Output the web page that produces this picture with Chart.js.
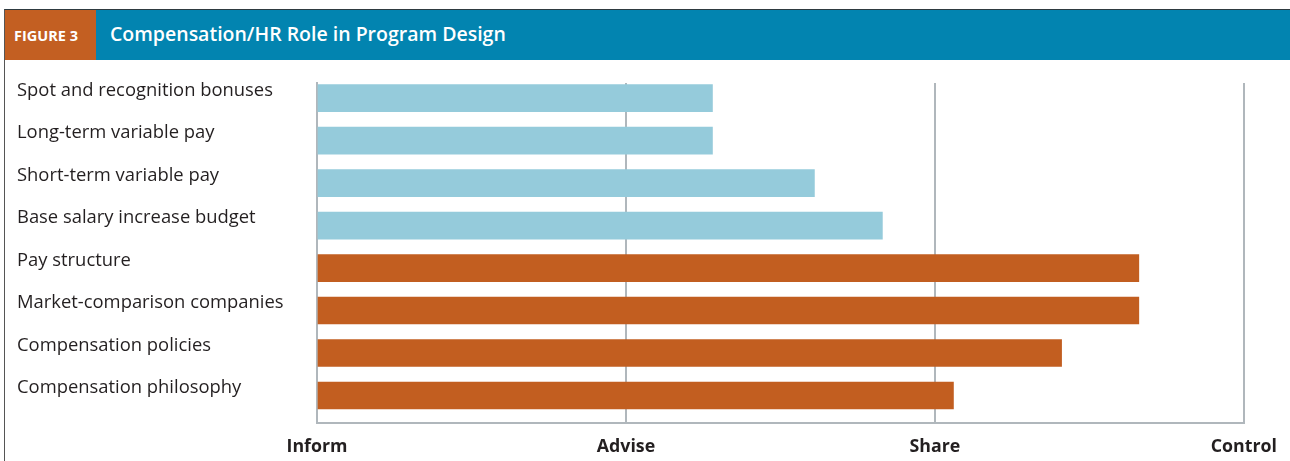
<!DOCTYPE html>
<html>
<head>
<meta charset="utf-8">
<script src="https://cdn.jsdelivr.net/npm/chart.js@4/dist/chart.umd.min.js"></script>
<style>
  html, body { margin: 0; padding: 0; background: #fff; }
  body { width: 1290px; height: 461px; position: relative; overflow: hidden; font-family: "Open Sans", sans-serif; }
  #frame { position: absolute; left: 4px; top: 9px; width: 1286px; height: 452px; border-left: 1.5px solid #555; border-top: 1.5px solid #2e3a40; box-sizing: border-box; }
  #header { position: absolute; left: 5px; top: 10px; width: 1285px; height: 50px; background: #0284b0; }
  #tag { position: absolute; left: 0; top: 0; width: 91px; height: 50px; background: #c35f22; color: #fff; font-weight: 700; font-size: 14.5px; line-height: 51px; padding-left: 9px; box-sizing: border-box; white-space: nowrap; }
  #title { position: absolute; left: 105px; top: 0; height: 50px; line-height: 48px; color: #fff; font-weight: 600; font-size: 19.5px; white-space: nowrap; }
  canvas { position: absolute; left: 0; top: 0; }
</style>
</head>
<body>
<div id="frame"></div>
<div id="header"><div id="tag">FIGURE 3</div><div id="title">Compensation/HR Role in Program Design</div></div>
<canvas id="c" width="1290" height="461"></canvas>
<script>
const categories = [
  "Spot and recognition bonuses",
  "Long-term variable pay",
  "Short-term variable pay",
  "Base salary increase budget",
  "Pay structure",
  "Market-comparison companies",
  "Compensation policies",
  "Compensation philosophy"
];
const roleValues = [1.28, 1.28, 1.61, 1.83, 2.66, 2.66, 2.41, 2.06];
const groups = ["incentive", "incentive", "incentive", "incentive", "foundation", "foundation", "foundation", "foundation"];
const xTickLabels = ["Inform", "Advise", "Share", "Control"];

const groupColors = { incentive: "#95cbdb", foundation: "#c25e20" };
const gridGray = "#b0b7bc";

new Chart(document.getElementById("c"), {
  type: "bar",
  data: {
    datasets: [{
      data: roleValues.map((v, i) => ({ x: v, y: i })),
      backgroundColor: groups.map(g => groupColors[g]),
      borderWidth: 0,
      barThickness: 27
    }]
  },
  options: {
    indexAxis: "y",
    responsive: false,
    animation: false,
    devicePixelRatio: 1,
    layout: { padding: { left: 17, top: 83, right: 45, bottom: 0 } },
    plugins: { legend: { display: false }, tooltip: { enabled: false } },
    scales: {
      y: {
        type: "linear",
        reverse: true,
        offset: false,
        min: -0.358,
        max: 7.648,
        afterBuildTicks: (s) => { s.ticks = categories.map((_, i) => ({ value: i })); },
        afterFit: (s) => { s.width = 300; },
        grid: { display: false, drawTicks: false, offset: false },
        border: { display: true, color: gridGray, width: 2 },
        ticks: {
          autoSkip: false,
          crossAlign: "far",
          padding: 0,
          labelOffset: -7.5,
          color: "#231f20",
          font: { family: "Open Sans", size: 18.4 },
          callback: (v) => categories[v] ?? ""
        }
      },
      x: {
        type: "linear",
        min: 0,
        max: 3,
        afterBuildTicks: (s) => { s.ticks = xTickLabels.map((_, i) => ({ value: i })); },
        afterFit: (s) => { s.height = 38; },
        grid: { color: gridGray, lineWidth: 2, drawTicks: false },
        border: { display: true, color: gridGray, width: 2 },
        ticks: {
          padding: 13,
          color: "#231f20",
          font: { family: "Open Sans", size: 17.8, weight: "bold" },
          callback: (v) => xTickLabels[v] ?? ""
        }
      }
    }
  }
});
</script>
</body>
</html>
